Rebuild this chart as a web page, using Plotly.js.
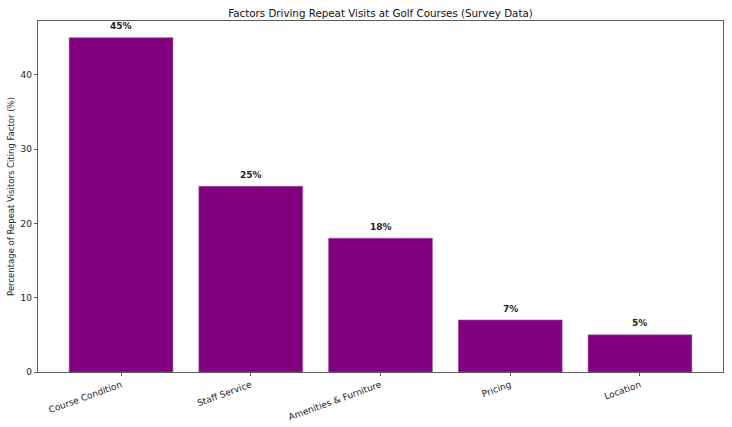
<!DOCTYPE html>
<html>
<head>
<meta charset="utf-8">
<script src="https://cdn.plot.ly/plotly-3.0.1.min.js"></script>
<style>html,body{margin:0;padding:0;background:#fff;}#chart{width:732px;height:427px;}</style>
</head>
<body>
<div id="chart"></div>
<script>
var categories = ["Course Condition", "Staff Service", "Amenities & Furniture", "Pricing", "Location"];
var percentages = [45, 25, 18, 7, 5];
var valueLabels = ["45%", "25%", "18%", "7%", "5%"];

var xIdx = categories.map(function(_, i){ return i; });

var trace = {
  type: "bar",
  x: xIdx,
  y: percentages,
  width: 0.8,
  marker: {color: "#800080", line: {color: "#9a4f9a", width: 0.6}},
  hoverinfo: "skip"
};

var annotations = percentages.map(function(v, i){
  return {
    x: i, y: v + 1, xref: "x", yref: "y",
    text: "<b>" + valueLabels[i] + "</b>",
    showarrow: false, yanchor: "bottom", xanchor: "center", yshift: -3,
    font: {family: "DejaVu Sans", size: 9, color: "#222"}
  };
});

var layout = {
  width: 732, height: 427,
  margin: {l: 38, r: 9, t: 21, b: 55},
  paper_bgcolor: "#fff", plot_bgcolor: "#fff",
  font: {family: "DejaVu Sans", size: 9, color: "#222"},
  showlegend: false,
  title: {text: "Factors Driving Repeat Visits at Golf Courses (Survey Data)",
          font: {family: "DejaVu Sans", size: 10.3, color: "#111"},
          x: 0.5, xref: "paper", xanchor: "center", y: 1, yref: "paper", yanchor: "bottom", pad: {b: 4}},
  xaxis: {
    range: [-0.64, 4.64],
    tickmode: "array", tickvals: xIdx, ticktext: categories,
    tickangle: -20,
    ticks: "outside", ticklen: 3.5, tickcolor: "#333", tickwidth: 0.8,
    showline: true, linecolor: "#333", linewidth: 0.8, mirror: true,
    showgrid: false, zeroline: false,
    tickfont: {family: "DejaVu Sans", size: 9, color: "#222"}
  },
  yaxis: {
    range: [0, 47.25],
    tickvals: [0, 10, 20, 30, 40],
    ticks: "outside", ticklen: 3.5, tickcolor: "#333", tickwidth: 0.8,
    showline: true, linecolor: "#333", linewidth: 0.8, mirror: true,
    showgrid: false, zeroline: false,
    tickfont: {family: "DejaVu Sans", size: 9, color: "#222"},
    title: {text: "Percentage of Repeat Visitors Citing Factor (%)",
            font: {family: "DejaVu Sans", size: 8.5, color: "#222"}, standoff: 4}
  },
  annotations: annotations
};

Plotly.newPlot("chart", [trace], layout, {displayModeBar: false, staticPlot: true});
</script>
</body>
</html>
